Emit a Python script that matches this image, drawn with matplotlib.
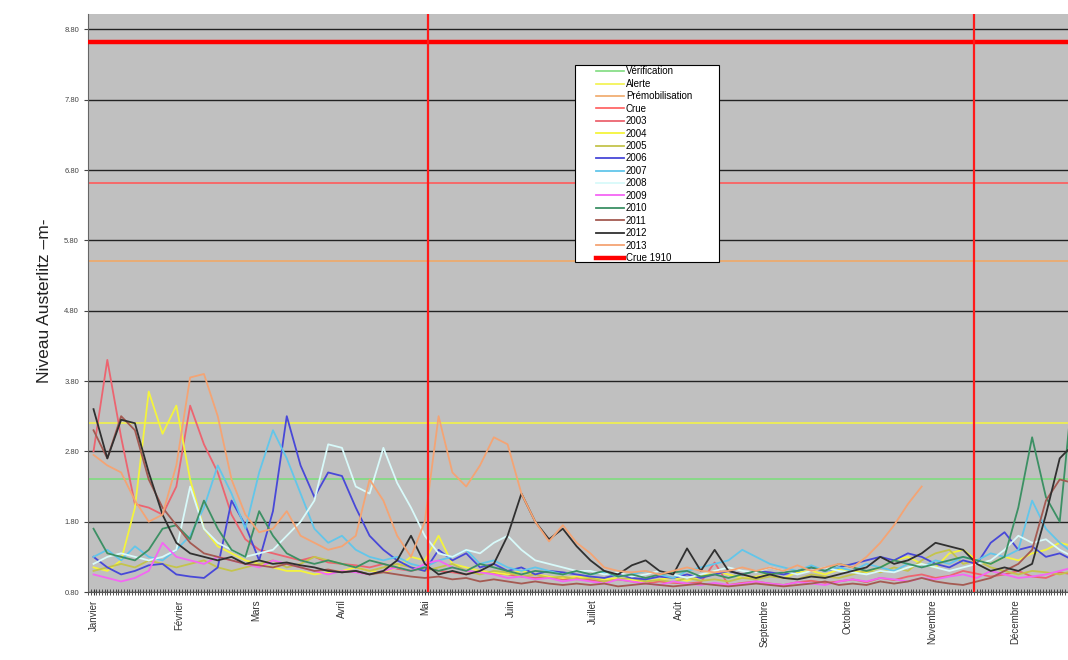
import numpy as np
import matplotlib
matplotlib.use("Agg")
import matplotlib.pyplot as plt
from matplotlib.patches import Rectangle
from matplotlib.ticker import MultipleLocator, FixedLocator, FormatStrFormatter

plt.rcParams['font.family'] = ['Liberation Sans', 'DejaVu Sans']

nan = np.nan

# day of year for each reading (one every 5 days)
days = np.arange(0, 356, 5)

months = ['Janvier', 'Février', 'Mars', 'Avril', 'Mai', 'Juin', 'Juillet',
          'Août', 'Septembre', 'Octobre', 'Novembre', 'Décembre']
month_start = [0, 31, 59, 90, 120, 151, 181, 212, 243, 273, 304, 334]

# reference levels (m)
level_names = ['Vérification', 'Alerte', 'Prémobilisation', 'Crue']
level_values = [2.40, 3.20, 5.50, 6.61]
level_colors = ['#7fdc7f', '#f2f24a', '#f0a868', '#ff5a5a']
crue_1910 = 8.62

# period lines (day of year)
period_days = [121, 319]

# Seine level at Austerlitz, one value every 5 days
y2003 = [2.8, 4.1, 3.0, 2.05, 2.0, 1.9, 2.3, 3.45, 2.9, 2.5, 1.9, 1.55,
         1.4, 1.35, 1.3, 1.25, 1.3, 1.22, 1.2, 1.18, 1.15, 1.2, 1.13, 1.1,
         1.15, 1.1, 1.08, 1.05, 1.1, 1.07, 1.05, 1.02, 1.0, 1.02, 0.98, 1.0,
         0.97, 0.95, 0.98, 0.95, 0.92, 0.95, 0.93, 0.92, 0.94, 1.22, 0.9, 0.93,
         0.95, 0.92, 0.9, 0.94, 0.96, 0.93, 0.95, 0.98, 0.94, 1.0, 0.97, 1.02,
         1.05, 1.0, 1.03, 1.1, 1.06, 1.02, 1.05, 1.1, 1.02, 1.0, 1.08, 1.05]
y2004 = [1.15, 1.1, 1.25, 2.0, 3.65, 3.05, 3.45, 2.4, 1.7, 1.45, 1.35, 1.25,
         1.2, 1.15, 1.1, 1.1, 1.05, 1.08, 1.1, 1.15, 1.1, 1.08, 1.15, 1.3,
         1.25, 1.6, 1.2, 1.15, 1.1, 1.08, 1.05, 1.1, 1.05, 1.02, 1.0, 1.02,
         1.0, 0.98, 1.0, 0.97, 0.95, 0.98, 1.0, 0.96, 1.02, 1.1, 1.05, 1.0,
         1.02, 1.05, 1.0, 1.08, 1.1, 1.05, 1.12, 1.1, 1.08, 1.15, 1.25, 1.3,
         1.2, 1.15, 1.35, 1.4, 1.25, 1.2, 1.3, 1.25, 1.35, 1.4, 1.5, 1.45]
y2005 = [1.1, 1.15, 1.2, 1.15, 1.25, 1.2, 1.15, 1.2, 1.25, 1.15, 1.1, 1.15,
         1.2, 1.25, 1.15, 1.2, 1.3, 1.25, 1.2, 1.15, 1.1, 1.15, 1.2, 1.15,
         1.1, 1.15, 1.2, 1.1, 1.05, 1.1, 1.08, 1.02, 1.05, 1.0, 1.02, 0.98,
         1.0, 0.95, 0.98, 1.0, 0.95, 0.97, 0.94, 1.0, 0.96, 0.98, 0.95, 1.0,
         0.98, 1.02, 1.0, 0.98, 1.05, 1.02, 1.0, 1.05, 1.1, 1.08, 1.15, 1.1,
         1.25, 1.35, 1.4, 1.2, 1.25, 1.15, 1.1, 1.05, 1.1, 1.08, 1.05, 1.1]
y2006 = [1.3, 1.15, 1.05, 1.1, 1.18, 1.2, 1.05, 1.02, 1.0, 1.15, 2.1, 1.75,
         1.25, 1.95, 3.3, 2.6, 2.15, 2.5, 2.45, 2.0, 1.6, 1.4, 1.25, 1.15,
         1.1, 1.4, 1.25, 1.35, 1.15, 1.2, 1.1, 1.15, 1.05, 1.1, 1.08, 1.05,
         1.02, 1.0, 1.05, 1.0, 0.98, 1.02, 1.0, 1.05, 1.0, 1.05, 1.1, 1.05,
         1.1, 1.08, 1.05, 1.1, 1.15, 1.1, 1.15, 1.2, 1.25, 1.3, 1.25, 1.35,
         1.3, 1.2, 1.15, 1.25, 1.2, 1.5, 1.65, 1.4, 1.45, 1.3, 1.35, 1.25]
y2007 = [1.3, 1.4, 1.25, 1.45, 1.3, 1.25, 1.4, 1.6, 2.0, 2.6, 2.2, 1.7,
         2.5, 3.1, 2.7, 2.2, 1.7, 1.5, 1.6, 1.4, 1.3, 1.25, 1.3, 1.2,
         1.15, 1.25, 1.3, 1.4, 1.2, 1.25, 1.15, 1.1, 1.15, 1.1, 1.05, 1.1,
         1.05, 1.08, 1.02, 1.05, 1.1, 1.05, 1.0, 1.1, 1.15, 1.2, 1.25, 1.4,
         1.3, 1.2, 1.15, 1.1, 1.18, 1.1, 1.15, 1.1, 1.2, 1.15, 1.1, 1.2,
         1.15, 1.25, 1.2, 1.3, 1.25, 1.35, 1.3, 1.4, 2.1, 1.7, 1.5, 1.35]
y2008 = [1.2, 1.3, 1.35, 1.3, 1.25, 1.3, 1.4, 2.3, 1.7, 1.5, 1.4, 1.3,
         1.35, 1.4, 1.6, 1.8, 2.1, 2.9, 2.85, 2.3, 2.2, 2.85, 2.35, 2.0,
         1.6, 1.35, 1.3, 1.4, 1.35, 1.5, 1.6, 1.4, 1.25, 1.2, 1.15, 1.1,
         1.1, 1.05, 1.08, 1.02, 1.05, 1.1, 1.05, 1.0, 1.05, 1.1, 1.15, 1.1,
         1.08, 1.15, 1.1, 1.05, 1.1, 1.15, 1.1, 1.08, 1.05, 1.1, 1.08, 1.15,
         1.2, 1.15, 1.1, 1.15, 1.2, 1.25, 1.4, 1.6, 1.5, 1.55, 1.4, 1.3]
y2009 = [1.05, 1.0, 0.95, 1.0, 1.1, 1.5, 1.3, 1.25, 1.2, 1.3, 1.25, 1.2,
         1.15, 1.25, 1.2, 1.15, 1.1, 1.05, 1.1, 1.08, 1.05, 1.1, 1.15, 1.1,
         1.2, 1.25, 1.15, 1.1, 1.08, 1.05, 1.0, 1.02, 0.98, 1.0, 0.95, 0.98,
         0.95, 0.92, 0.98, 0.95, 0.92, 0.9, 0.95, 0.92, 0.9, 0.93, 0.9, 0.92,
         0.95, 0.92, 0.9, 0.94, 0.92, 0.9, 0.95, 0.98, 0.95, 1.0, 0.98, 0.95,
         1.0, 0.98, 1.02, 1.05, 1.0, 1.1, 1.05, 1.0, 1.02, 1.05, 1.1, 1.15]
y2010 = [1.7, 1.35, 1.3, 1.25, 1.4, 1.7, 1.75, 1.55, 2.1, 1.7, 1.4, 1.3,
         1.95, 1.6, 1.35, 1.25, 1.2, 1.25, 1.2, 1.15, 1.25, 1.2, 1.15, 1.1,
         1.15, 1.1, 1.15, 1.1, 1.2, 1.15, 1.1, 1.05, 1.1, 1.08, 1.05, 1.1,
         1.05, 1.1, 1.02, 1.05, 1.0, 1.05, 1.08, 1.1, 1.02, 1.05, 1.0, 1.05,
         1.1, 1.05, 1.08, 1.1, 1.15, 1.1, 1.2, 1.15, 1.1, 1.15, 1.25, 1.2,
         1.15, 1.2, 1.25, 1.3, 1.25, 1.2, 1.3, 2.0, 3.0, 2.15, 1.8, 3.8]
y2011 = [3.1, 2.7, 3.3, 3.1, 2.4, 2.0, 1.75, 1.5, 1.35, 1.3, 1.25, 1.2,
         1.18, 1.15, 1.2, 1.15, 1.1, 1.12, 1.08, 1.1, 1.05, 1.08, 1.05, 1.02,
         1.0, 1.02, 0.98, 1.0, 0.95, 0.98, 0.95, 0.92, 0.95, 0.92, 0.9, 0.92,
         0.9, 0.92, 0.88, 0.9, 0.92, 0.9, 0.88, 0.9, 0.92, 0.9, 0.88, 0.9,
         0.92, 0.9, 0.88, 0.9, 0.92, 0.95, 0.9, 0.92, 0.9, 0.95, 0.92, 0.95,
         1.0, 0.95, 0.92, 0.9, 0.95, 1.0, 1.1, 1.2, 1.4, 2.1, 2.4, 2.35]
y2012 = [3.4, 2.7, 3.25, 3.2, 2.5, 1.9, 1.5, 1.35, 1.3, 1.25, 1.3, 1.2,
         1.25, 1.2, 1.22, 1.18, 1.15, 1.1, 1.08, 1.1, 1.05, 1.1, 1.25, 1.6,
         1.2, 1.05, 1.1, 1.05, 1.1, 1.2, 1.6, 2.2, 1.8, 1.55, 1.7, 1.45,
         1.25, 1.1, 1.05, 1.18, 1.25, 1.1, 1.05, 1.42, 1.1, 1.4, 1.1, 1.05,
         1.0, 1.05, 1.0, 0.98, 1.02, 1.0, 1.05, 1.1, 1.15, 1.3, 1.2, 1.25,
         1.35, 1.5, 1.45, 1.4, 1.2, 1.1, 1.15, 1.1, 1.2, 1.9, 2.7, 2.9]
y2013 = [2.75, 2.6, 2.5, 2.1, 1.8, 1.9, 2.6, 3.85, 3.9, 3.3, 2.4, 1.9,
         1.65, 1.7, 1.95, 1.6, 1.5, 1.4, 1.45, 1.6, 2.4, 2.1, 1.6, 1.3,
         1.8, 3.3, 2.5, 2.3, 2.6, 3.0, 2.9, 2.2, 1.8, 1.52, 1.75, 1.5,
         1.35, 1.15, 1.1, 1.08, 1.1, 1.05, 1.1, 1.15, 1.1, 1.08, 1.1, 1.15,
         1.1, 1.15, 1.1, 1.18, 1.1, 1.15, 1.2, 1.15, 1.3, 1.5, 1.75, 2.05,
         2.3, nan, nan, nan, nan, nan, nan, nan, nan, nan, nan, nan]

years = ['2003', '2004', '2005', '2006', '2007', '2008', '2009',
         '2010', '2011', '2012', '2013']
series = [y2003, y2004, y2005, y2006, y2007, y2008, y2009,
          y2010, y2011, y2012, y2013]
year_colors = ['#ec6470', '#f4f43c', '#c4c44c', '#4848d8', '#62c6ea', '#d8fafa',
               '#f466f4', '#3c9064', '#a45a52', '#303030', '#f4a474']

fig = plt.figure(figsize=(10.68, 6.6), dpi=100)
ax = fig.add_axes([0.0824, 0.103, 0.9176, 0.876])
ax.set_facecolor('#c0c0c0')

# horizontal grid
for g in np.arange(0.8, 9.0, 1.0):
    ax.axhline(g, color='#222222', lw=1.0, zorder=1)

handles = []
for name, val, col in zip(level_names, level_values, level_colors):
    h, = ax.plot([-2, 353], [val, val], color=col, lw=1.2, label=name, zorder=2)
    handles.append(h)

for name, vals, col in zip(years, series, year_colors):
    h, = ax.plot(days, vals, color=col, lw=1.3, label=name, zorder=3)
    handles.append(h)

h, = ax.plot([-2, 353], [crue_1910, crue_1910], color='#ff0000', lw=3.2,
             label='Crue 1910', zorder=4)
handles.append(h)

for d in period_days:
    ax.axvline(d, color='#ff1a1a', lw=1.6, zorder=4)

ax.set_xlim(-2, 353)
ax.set_ylim(0.8, 9.02)

ax.yaxis.set_major_locator(FixedLocator(np.arange(0.8, 9.0, 1.0)))
ax.yaxis.set_major_formatter(FormatStrFormatter('%.2f'))
ax.tick_params(axis='y', labelsize=5.5, colors='#444444', length=3)

ax.set_xticks(month_start)
ax.set_xticklabels(months, rotation=90, fontsize=7, color='#333333')
ax.xaxis.set_minor_locator(MultipleLocator(1))
ax.tick_params(axis='x', which='major', length=4, direction='inout', color='#333333')
ax.tick_params(axis='x', which='minor', length=4, width=0.6, direction='inout',
               color='#333333')

for s in ['top', 'right']:
    ax.spines[s].set_visible(False)
ax.spines['left'].set_color('#666666')
ax.spines['bottom'].set_color('#555555')

fig.text(0.042, 0.545, 'Niveau Austerlitz –m-', rotation=90, ha='center',
         va='center', fontsize=12.5, color='#222222')

# legend box drawn separately (wide white panel with margins)
box = Rectangle((0.497, 0.571), 0.147, 0.341, transform=ax.transAxes,
                facecolor='white', edgecolor='black', lw=0.8, zorder=9)
ax.add_patch(box)
leg = ax.legend(handles=handles, loc='upper left', bbox_to_anchor=(0.518, 0.909),
                fontsize=7, handlelength=2.9, handletextpad=0.2,
                labelspacing=0.25, borderpad=0, borderaxespad=0,
                frameon=False)
leg.set_zorder(10)

fig.savefig('out.png', dpi=100)
